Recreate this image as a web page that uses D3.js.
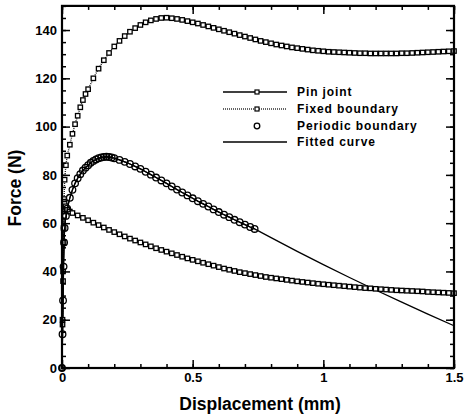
<!DOCTYPE html>
<html><head><meta charset="utf-8">
<script src="https://cdn.jsdelivr.net/npm/d3@7"></script>
<style>body{margin:0;background:#fff} text{font-family:"Liberation Sans",Arial,sans-serif;font-weight:bold;fill:#000}</style>
</head><body><svg id="c" width="465" height="416"></svg>
<script>
// ---- data ----
const xMajorTicks = [0, 0.5, 1, 1.5];
const xTickLabels = ["0", "0.5", "1", "1.5"];
const yMajorTicks = [0, 20, 40, 60, 80, 100, 120, 140];
const yTickLabels = ["0", "20", "40", "60", "80", "100", "120", "140"];
const seriesNames = ["Pin joint", "Fixed boundary", "Periodic boundary", "Fitted curve"];

const fixedDisp = [0,0.002,0.004,0.006,0.008,0.01,0.015,0.02,0.03,0.04,0.05,0.06,0.07,0.08,0.09,0.1,0.12,0.14,0.16,0.18,0.2,0.22,0.24,0.26,0.28,0.3,0.32,0.34,0.36,0.38,0.4,0.42,0.44,0.46,0.48,0.5,0.52,0.54,0.56,0.58,0.6,0.62,0.64,0.66,0.68,0.7,0.72,0.74,0.76,0.78,0.8,0.82,0.84,0.86,0.88,0.9,0.92,0.94,0.96,0.98,1.0,1.02,1.04,1.06,1.08,1.1,1.12,1.14,1.16,1.18,1.2,1.22,1.24,1.26,1.28,1.3,1.32,1.34,1.36,1.38,1.4,1.42,1.44,1.46,1.48,1.5];
const fixedForce = [0,20,40,58,70,78,84,88,92.5,97,101,104.5,108,111,113.5,115.5,120,124,127.5,130.5,133.2,135.5,137.5,139.3,140.8,142.1,143.2,144,144.6,145,145.1,144.9,144.6,144.2,143.7,143.2,142.7,142.1,141.5,140.9,140.3,139.7,139.1,138.5,137.9,137.3,136.7,136.1,135.5,135,134.5,134,133.6,133.2,132.8,132.5,132.2,131.9,131.6,131.4,131.2,131,130.9,130.8,130.7,130.6,130.5,130.4,130.4,130.3,130.3,130.3,130.3,130.3,130.3,130.4,130.4,130.5,130.6,130.7,130.8,130.9,131,131.1,131.2,131.3];

const pinDisp = [0,0.002,0.004,0.006,0.008,0.01,0.015,0.02,0.03,0.04,0.06,0.08,0.1,0.12,0.14,0.16,0.18,0.2,0.22,0.24,0.26,0.28,0.3,0.32,0.34,0.36,0.38,0.4,0.42,0.44,0.46,0.48,0.5,0.52,0.54,0.56,0.58,0.6,0.62,0.64,0.66,0.68,0.7,0.72,0.74,0.76,0.78,0.8,0.82,0.84,0.86,0.88,0.9,0.92,0.94,0.96,0.98,1.0,1.02,1.04,1.06,1.08,1.1,1.12,1.14,1.16,1.18,1.2,1.22,1.24,1.26,1.28,1.3,1.32,1.34,1.36,1.38,1.4,1.42,1.44,1.46,1.48,1.5];
const pinForce = [0,18,36,52,63,68,67,65.5,64.8,64.2,63.2,62.2,61.2,60.2,59.2,58.2,57.2,56.3,55.4,54.5,53.6,52.8,52,51.2,50.4,49.6,48.9,48.2,47.5,46.8,46.1,45.4,44.8,44.2,43.6,43,42.4,41.8,41.2,40.7,40.2,39.7,39.3,38.9,38.5,38.1,37.7,37.4,37.1,36.8,36.5,36.2,35.9,35.65,35.4,35.15,34.9,34.7,34.5,34.3,34.1,33.9,33.7,33.5,33.3,33.1,33,32.8,32.65,32.5,32.35,32.2,32.1,32,31.9,31.8,31.7,31.5,31.4,31.3,31.2,31.1,31];

const periodicDisp = [0,0.002,0.004,0.006,0.008,0.01,0.015,0.02,0.03,0.04,0.05,0.06,0.07,0.08,0.09,0.1,0.11,0.12,0.13,0.14,0.15,0.16,0.17,0.18,0.19,0.2,0.22,0.24,0.26,0.28,0.3,0.32,0.34,0.36,0.38,0.4,0.42,0.44,0.46,0.48,0.5,0.52,0.54,0.56,0.58,0.6,0.62,0.64,0.66,0.68,0.7,0.72,0.737];
const periodicForce = [0,14,28,42,52,58,63,66,70.5,73.8,76.5,78.6,80.3,81.8,83,84,85,85.8,86.4,86.9,87.2,87.4,87.5,87.4,87.2,86.9,86.2,85.4,84.5,83.5,82.5,81.3,80.1,78.9,77.7,76.5,75.2,73.9,72.7,71.5,70.3,69.1,68,66.9,65.7,64.6,63.5,62.5,61.4,60.4,59.4,58.4,57.6];

const fitExtDisp = [0.8,0.9,1.0,1.1,1.2,1.3,1.4,1.5];
const fitExtForce = [54,48.3,42.8,37.5,32.3,27.3,22.3,17.5];

// ---- chart ----
const svg = d3.select("#c");
const x = d3.scaleLinear().domain([0, 1.5]).range([62, 454]);
const y = d3.scaleLinear().domain([0, 150]).range([368, 5.9]);

const zip = (a, b) => a.map((d, i) => [d, b[i]]);
const fixed = zip(fixedDisp, fixedForce);
const pin = zip(pinDisp, pinForce);
const periodic = zip(periodicDisp, periodicForce);
const fitted = periodic.concat(zip(fitExtDisp, fitExtForce));

const line = d3.line().x(d => x(d[0])).y(d => y(d[1]));
const plot = svg.append("g");

plot.append("path").datum(fitted).attr("d", line).attr("fill", "none").attr("stroke", "#000").attr("stroke-width", 1.3);
plot.append("path").datum(pin).attr("d", line).attr("fill", "none").attr("stroke", "#000").attr("stroke-width", 1.4);
plot.append("path").datum(fixed).attr("d", line).attr("fill", "none").attr("stroke", "#222").attr("stroke-width", 1.4).attr("stroke-dasharray", "1,1");

function squares(data) {
  plot.append("g").selectAll("rect").data(data).join("rect")
    .attr("x", d => x(d[0]) - 2.2).attr("y", d => y(d[1]) - 2.2)
    .attr("width", 4.4).attr("height", 4.4)
    .attr("fill", "#fff").attr("stroke", "#000").attr("stroke-width", 1.3);
}
squares(pin);
squares(fixed);
plot.append("g").selectAll("circle").data(periodic).join("circle")
  .attr("cx", d => x(d[0])).attr("cy", d => y(d[1])).attr("r", 3.3)
  .attr("fill", "none").attr("stroke", "#000").attr("stroke-width", 1.3);
plot.append("path").datum(periodic).attr("d", line).attr("fill", "none").attr("stroke", "#000").attr("stroke-width", 1.2);

// ---- axes ----
const xMinor = d3.range(0, 1.5001, 0.1);
const yMinor = d3.range(0, 150.001, 5);
function styleAxis(g) {
  g.select(".domain").remove();
  g.selectAll("line").attr("stroke", "#000").attr("stroke-width", 1.5);
  g.selectAll("text").style("font-size", "13px").style("font-weight", "bold").style("font-family", '"Liberation Sans", Arial, sans-serif');
}
svg.append("g").attr("transform", "translate(0,368)")
  .call(d3.axisBottom(x).tickValues(xMinor).tickSize(-4).tickFormat(""))
  .call(styleAxis);
svg.append("g").attr("transform", "translate(0,368)")
  .call(d3.axisBottom(x).tickValues(xMajorTicks).tickSize(-8).tickPadding(5).tickFormat((d, i) => xTickLabels[i]))
  .call(styleAxis);
svg.append("g").attr("transform", "translate(0,5.9)")
  .call(d3.axisTop(x).tickValues(xMinor).tickSize(-4).tickFormat(""))
  .call(styleAxis);
svg.append("g").attr("transform", "translate(0,5.9)")
  .call(d3.axisTop(x).tickValues(xMajorTicks).tickSize(-8).tickFormat(""))
  .call(styleAxis);
svg.append("g").attr("transform", "translate(62,0)")
  .call(d3.axisLeft(y).tickValues(yMinor).tickSize(-4).tickFormat(""))
  .call(styleAxis);
svg.append("g").attr("transform", "translate(62,0)")
  .call(d3.axisLeft(y).tickValues(yMajorTicks).tickSize(-8).tickPadding(5).tickFormat((d, i) => yTickLabels[i]))
  .call(styleAxis);
svg.append("g").attr("transform", "translate(454,0)")
  .call(d3.axisRight(y).tickValues(yMinor).tickSize(-4).tickFormat(""))
  .call(styleAxis);
svg.append("g").attr("transform", "translate(454,0)")
  .call(d3.axisRight(y).tickValues(yMajorTicks).tickSize(-8).tickFormat(""))
  .call(styleAxis);

svg.append("rect").attr("x", 62).attr("y", 5.9).attr("width", 454 - 62).attr("height", 368 - 5.9)
  .attr("fill", "none").attr("stroke", "#000").attr("stroke-width", 2.2);

svg.append("text").attr("x", 260).attr("y", 410).attr("text-anchor", "middle")
  .style("font-size", "17.5px").text("Displacement (mm)");
svg.append("text").attr("transform", "translate(21,188) rotate(-90)").attr("text-anchor", "middle")
  .style("font-size", "17.5px").text("Force (N)");

// ---- legend ----
const leg = svg.append("g");
const legY = [92, 109, 126, 142];
seriesNames.forEach((name, i) => {
  const ly = legY[i];
  if (i !== 2) {
    leg.append("line").attr("x1", 223).attr("x2", 287).attr("y1", ly).attr("y2", ly)
      .attr("stroke", i === 1 ? "#333" : "#000")
      .attr("stroke-width", i === 3 ? 1.3 : 1.7)
      .attr("stroke-dasharray", i === 1 ? "1,1" : null);
  }
  if (i === 0 || i === 1) {
    leg.append("rect").attr("x", 255).attr("y", ly - 2).attr("width", 4).attr("height", 4)
      .attr("fill", "#fff").attr("stroke", "#000").attr("stroke-width", 1.2);
  }
  if (i === 2) {
    leg.append("circle").attr("cx", 257).attr("cy", ly).attr("r", 2.8)
      .attr("fill", "#fff").attr("stroke", "#000").attr("stroke-width", 1.3);
  }
  leg.append("text").attr("x", 297).attr("y", ly + 4).style("font-size", "12px")
    .style("letter-spacing", "0.9px").text(name);
});
</script></body></html>
